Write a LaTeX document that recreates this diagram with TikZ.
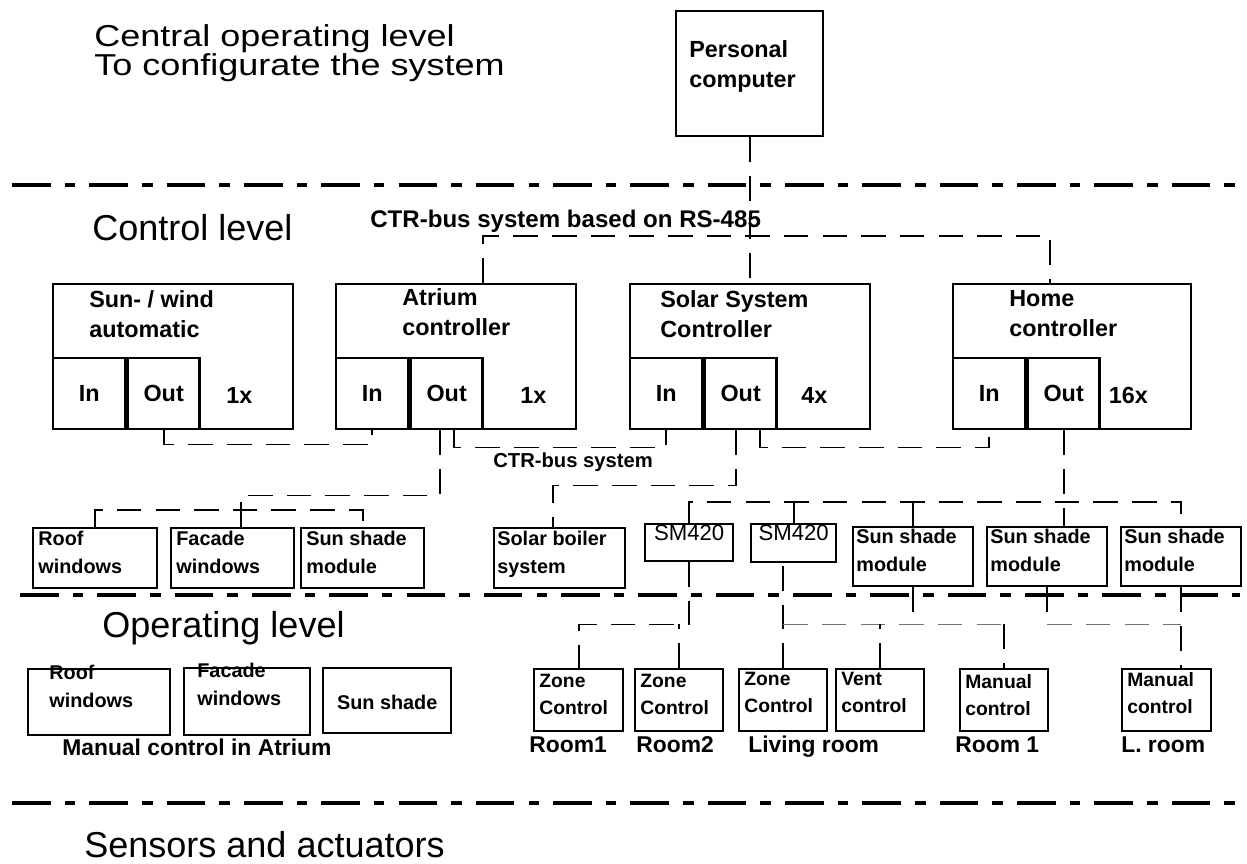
\documentclass[tikz,border=0pt]{standalone}
\usepackage{fontspec}
\setmainfont{Liberation Sans}
\begin{document}
\begin{tikzpicture}[x=0.02cm, y=-0.02cm,
    box/.style 2 args={draw, line width=1.4pt, inner sep=0pt, anchor=north west,
        minimum width=#1*0.02cm, minimum height=#2*0.02cm},
    cell/.style={draw, line width=1.4pt, inner sep=0pt, anchor=south west,
        minimum width=1.44cm, minimum height=1.42cm, font=\bfseries\fontsize{13.3}{17}\selectfont},
    tl/.style={align=left, inner sep=0pt, anchor=north west},
    head/.style={font=\fontsize{20.5}{24}\selectfont, inner sep=0pt, anchor=base west},
    fcap/.style={font=\bfseries\fontsize{13.3}{17}\selectfont},
    fmod/.style={font=\bfseries\fontsize{11.3}{16}\selectfont},
    fop/.style={font=\bfseries\fontsize{11}{15.4}\selectfont},
    room/.style={font=\bfseries\fontsize{13}{16}\selectfont, inner sep=0pt, anchor=base west},
    level/.style={line width=2.8pt, dash pattern=on 22pt off 8pt on 6pt off 8pt},
    bus/.style={line width=1pt, dash pattern=on 14pt off 8pt},
    faded/.style={bus, black!55}]
    \useasboundingbox[fill=white] (0,0) rectangle (1247,864);

    % --- Level headings ---
    \node[head] (h1) at (94,47) {\scalebox{1}[0.84]{Central operating level}};
    \node[head] (h2) at (94,76) {\scalebox{1}[0.84]{To configurate the system}};
    \node[head] (h3) at (92,241) {Control level};
    \node[head] (h4) at (102,637) {Operating level};
    \node[head] (h5) at (84,857) {Sensors and actuators};

    % --- Level dividers ---
    \draw[level] (12,185) -- (1240,185);
    \draw[level, line width=2pt] (20,595) -- (1240,595);
    \draw[level] (12,803) -- (1240,803);

    % --- Personal computer ---
    \node[box={147}{125}] (pc) at (675,10) {};
    \node[tl, fcap] (pctxt) at ([shift={(14,30)}]pc.north west) {Personal\\computer};

    % --- Controllers with In / Out cells ---
    \node[box={240}{145}] (sw) at (52,283) {};
    \node[cell] (swin) at (sw.south west) {In};
    \node[cell] (swout) at (swin.south east) {Out};
    \node[fcap] (swn) at ([shift={(-55,-35)}]sw.south east) {1x};
    \node[tl, fcap] (swtxt) at ([shift={(37,7)}]sw.north west) {Sun- / wind\\automatic};

    \node[box={240}{145}] (at) at (335,283) {};
    \node[cell] (atin) at (at.south west) {In};
    \node[cell] (atout) at (atin.south east) {Out};
    \node[fcap] (atn) at ([shift={(-44,-35)}]at.south east) {1x};
    \node[tl, fcap] (attxt) at ([shift={(67,5)}]at.north west) {Atrium\\controller};

    \node[box={240}{145}] (sol) at (629,283) {};
    \node[cell] (solin) at (sol.south west) {In};
    \node[cell] (solout) at (solin.south east) {Out};
    \node[fcap] (soln) at ([shift={(-57,-35)}]sol.south east) {4x};
    \node[tl, fcap] (soltxt) at ([shift={(31,7)}]sol.north west) {Solar System\\Controller};

    \node[box={238}{145}] (ho) at (952,283) {};
    \node[cell] (hoin) at (ho.south west) {In};
    \node[cell] (hoout) at (hoin.south east) {Out};
    \node[fcap] (hon) at ([shift={(-64,-35)}]ho.south east) {16x};
    \node[tl, fcap] (hotxt) at ([shift={(57,7)}]ho.north west) {Home\\controller};

    % --- CTR-bus based on RS-485 ---
    \coordinate (busL) at (483,236);
    \coordinate (busR) at (1050,236);
    \node[inner sep=0pt, anchor=base west, font=\bfseries\fontsize{13.7}{16}\selectfont] (bustxt)
        at (370,228) {CTR-bus system based on RS-485};
    \draw[bus] (pc.south) -- (pc.south |- sol.north);
    \draw[bus] (at.north -| busL) -- (busL) -- (busR) -- (busR |- ho.north);

    % --- Modules of the control level ---
    \node[box={124}{60}] (crw) at (32,527) {};
    \node[tl, fmod] (crwtxt) at ([shift={(6,4)}]crw.north west) {Roof\\windows};
    \node[box={123}{60}] (cfw) at (170,527) {};
    \node[tl, fmod] (cfwtxt) at ([shift={(6,4)}]cfw.north west) {Facade\\windows};
    \node[box={123}{60}] (ccs) at (300,527) {};
    \node[tl, fmod] (ccstxt) at ([shift={(6,4)}]ccs.north west) {Sun shade\\module};
    \node[box={131}{60}] (csb) at (493,527) {};
    \node[tl, fmod] (csbtxt) at ([shift={(4,4)}]csb.north west) {Solar boiler\\system};
    \node[box={88}{37}] (sm1) at (644,523) {};
    \node[inner sep=0pt, anchor=north, font=\fontsize{12.6}{15}\selectfont] (sm1txt)
        at ([yshift=-1pt]sm1.north) {SM420};
    \node[box={85}{38}] (sm2) at (750,523) {};
    \node[inner sep=0pt, anchor=north, font=\fontsize{12.6}{15}\selectfont] (sm2txt)
        at ([yshift=-1pt]sm2.north) {SM420};
    \node[box={120}{59}] (ss1) at (852,526) {};
    \node[tl, fmod] (ss1txt) at ([shift={(4,3)}]ss1.north west) {Sun shade\\module};
    \node[box={120}{59}] (ss2) at (986,526) {};
    \node[tl, fmod] (ss2txt) at ([shift={(4,3)}]ss2.north west) {Sun shade\\module};
    \node[box={120}{59}] (ss3) at (1120,526) {};
    \node[tl, fmod] (ss3txt) at ([shift={(4,3)}]ss3.north west) {Sun shade\\module};

    % --- CTR-bus system between controllers and modules ---
    \node[inner sep=0pt, anchor=base west, font=\bfseries\fontsize{11.5}{14}\selectfont] (ctrtxt)
        at (493,468) {CTR-bus system};
    \draw[bus] (swout.south) -- ++(0,14) -| (atin.south);
    \draw[bus] ([xshift=-4pt]atout.south) -- ++(0,65) -| ([xshift=4.5pt]cfw.north);
    \draw[bus] (crw.north) -- ++(0,-17) -| (ccs.north);
    \draw[bus] ([xshift=4pt]atout.south) -- ++(0,17) -| (solin.south);
    \draw[bus] ([xshift=-2.5pt]solout.south) -- ++(0,55) -| ([xshift=-4pt]csb.north);
    \draw[bus] ([xshift=11pt]solout.south) -- ++(0,17) -| (hoin.south);
    \draw[bus] (hoout.south) -- (hoout.south |- ss2.north);
    \draw[bus] (sm1.north) -- ++(0,-21) coordinate (jm) -| ([yshift=7pt]ss3.north);
    \draw[bus] (sm2.north) -- (sm2.north |- jm);
    \draw[bus] (ss1.north) -- (ss1.north |- jm);

    % --- Operating level: manual control in the atrium ---
    \node[box={142}{66}] (orw) at (27,668) {};
    \node[tl, fmod] (orwtxt) at ([shift={(22,-3)}]orw.north west) {Roof\\windows};
    \node[box={126}{67}] (ofw) at (183,667) {};
    \node[tl, fmod] (ofwtxt) at ([shift={(14,-4)}]ofw.north west) {Facade\\windows};
    \node[box={128}{65}] (oss) at (322,667) {};
    \node[fmod, inner sep=0pt] (osstxt) at ([yshift=-1pt]oss.center) {Sun shade};
    \node[room] (atrtxt) at (62,755) {Manual control in Atrium};

    % --- Operating level: rooms ---
    \node[box={89}{62}] (zc1) at (533,668) {};
    \node[tl, fop] (zc1txt) at ([shift={(6,6)}]zc1.north west) {Zone\\Control};
    \node[box={88}{62}] (zc2) at (634,668) {};
    \node[tl, fop] (zc2txt) at ([shift={(6,6)}]zc2.north west) {Zone\\Control};
    \node[box={88}{62}] (zc3) at (738,668) {};
    \node[tl, fop] (zc3txt) at ([shift={(6,4)}]zc3.north west) {Zone\\Control};
    \node[box={88}{62}] (vc) at (835,668) {};
    \node[tl, fop] (vctxt) at ([shift={(6,4)}]vc.north west) {Vent\\control};
    \node[box={88}{62}] (mc1) at (959,668) {};
    \node[tl, fop] (mc1txt) at ([shift={(6,6)}]mc1.north west) {Manual\\control};
    \node[box={89}{62}] (mc2) at (1121,668) {};
    \node[tl, fop] (mc2txt) at ([shift={(6,4)}]mc2.north west) {Manual\\control};
    \node[room] (r1) at (529,752) {Room1};
    \node[room] (r2) at (636,752) {Room2};
    \node[room] (r3) at (748,752) {Living room};
    \node[room] (r4) at (955,752) {Room 1};
    \node[room] (r5) at (1121,752) {L. room};

    % --- Links from the modules down to the operating level ---
    \draw[bus] (sm1.south) -- ++(0,62) coordinate (jo) -| (zc1.north);
    \draw[bus] (zc2.north) -- (zc2.north |- jo);
    \draw[bus] (zc3.north) -- (zc3.north |- sm2.south);
    \draw[faded] (zc3.north |- jo) -- (mc1.north |- jo);
    \draw[bus] (mc1.north |- jo) -- (mc1.north);
    \draw[bus] (vc.north) -- (vc.north |- jo);
    \draw[bus] (ss1.south) -- (ss1.south |- jo);
    \draw[bus] (ss2.south) -- (ss2.south |- jo);
    \draw[faded] (ss2.south |- jo) -- (ss3.south |- jo);
    \draw[bus] (ss3.south) -- (ss3.south |- mc2.north);
\end{tikzpicture}
\end{document}
